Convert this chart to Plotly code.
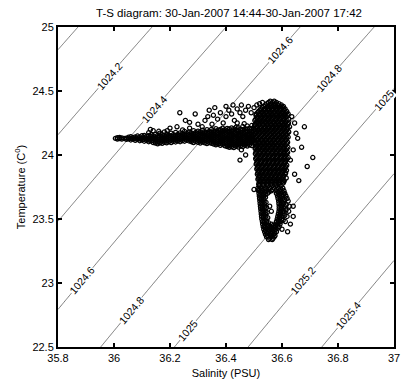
import math
import numpy as np
import plotly.graph_objects as go

# ---------------------------------------------------------------- data
TITLE = "T-S diagram: 30-Jan-2007 14:44-30-Jan-2007 17:42"

# warm, fresher tongue: salinity stations and the temperatures seen at each
BAND_SAL = [
    36.005, 36.012, 36.020, 36.028, 36.036, 36.044, 36.052, 36.060, 36.068, 36.076,
    36.084, 36.092, 36.100, 36.108, 36.116, 36.124, 36.132, 36.140, 36.148, 36.156,
    36.164, 36.172, 36.180, 36.188, 36.196, 36.204, 36.212, 36.220, 36.228, 36.236,
    36.244, 36.252, 36.260, 36.268, 36.276, 36.284, 36.292, 36.300, 36.308, 36.316,
    36.324, 36.332, 36.340, 36.348, 36.356, 36.364, 36.372, 36.380, 36.388, 36.396,
    36.404, 36.412, 36.420, 36.428, 36.436, 36.444, 36.452, 36.460, 36.468, 36.476,
    36.484, 36.492,
]
BAND_TEMP = [
    [24.130], [24.125, 24.135], [24.128, 24.136], [24.124, 24.134], [24.130],
    [24.122, 24.132], [24.126, 24.138], [24.118, 24.130, 24.142], [24.124, 24.136],
    [24.115, 24.128, 24.140], [24.122, 24.134, 24.148], [24.112, 24.126, 24.140],
    [24.118, 24.132, 24.150], [24.108, 24.122, 24.136, 24.152], [24.114, 24.128, 24.144],
    [24.104, 24.118, 24.134, 24.150, 24.175], [24.110, 24.126, 24.142, 24.158],
    [24.098, 24.114, 24.130, 24.148], [24.094, 24.108, 24.124, 24.140, 24.160],
    [24.088, 24.104, 24.120, 24.136, 24.152], [24.096, 24.112, 24.128, 24.146, 24.170],
    [24.092, 24.108, 24.124, 24.140, 24.158], [24.100, 24.116, 24.132, 24.150, 24.180],
    [24.096, 24.112, 24.128, 24.146, 24.164], [24.104, 24.120, 24.136, 24.154],
    [24.098, 24.114, 24.130, 24.148, 24.170], [24.106, 24.122, 24.140, 24.158],
    [24.102, 24.118, 24.134, 24.152, 24.176], [24.110, 24.126, 24.142, 24.160],
    [24.104, 24.120, 24.136, 24.154, 24.172], [24.112, 24.128, 24.146, 24.164],
    [24.108, 24.124, 24.140, 24.158, 24.184], [24.116, 24.132, 24.150, 24.168],
    [24.110, 24.126, 24.142, 24.160, 24.178], [24.104, 24.120, 24.136, 24.154, 24.172],
    [24.098, 24.114, 24.130, 24.148, 24.166, 24.190], [24.106, 24.122, 24.140, 24.158, 24.176],
    [24.100, 24.116, 24.132, 24.150, 24.168, 24.186], [24.094, 24.110, 24.126, 24.144, 24.162, 24.180],
    [24.102, 24.118, 24.136, 24.154, 24.172, 24.194], [24.096, 24.112, 24.128, 24.146, 24.164, 24.182],
    [24.090, 24.106, 24.122, 24.140, 24.158, 24.176, 24.198],
    [24.098, 24.114, 24.130, 24.148, 24.166, 24.184],
    [24.092, 24.108, 24.124, 24.142, 24.160, 24.178, 24.200],
    [24.086, 24.102, 24.118, 24.136, 24.154, 24.172, 24.190],
    [24.080, 24.096, 24.112, 24.130, 24.148, 24.166, 24.186, 24.206],
    [24.088, 24.104, 24.120, 24.138, 24.156, 24.174, 24.194],
    [24.076, 24.092, 24.108, 24.126, 24.144, 24.162, 24.180, 24.200],
    [24.084, 24.100, 24.116, 24.134, 24.152, 24.170, 24.190, 24.210],
    [24.072, 24.090, 24.106, 24.124, 24.142, 24.160, 24.178, 24.198],
    [24.066, 24.080, 24.096, 24.114, 24.132, 24.150, 24.168, 24.188, 24.208],
    [24.060, 24.074, 24.092, 24.108, 24.126, 24.144, 24.162, 24.182, 24.204],
    [24.064, 24.082, 24.098, 24.116, 24.134, 24.152, 24.170, 24.190, 24.212],
    [24.058, 24.078, 24.094, 24.112, 24.130, 24.148, 24.166, 24.186, 24.206],
    [24.068, 24.086, 24.102, 24.120, 24.138, 24.156, 24.174, 24.196, 24.218],
    [24.062, 24.082, 24.098, 24.116, 24.134, 24.152, 24.170, 24.190, 24.214],
    [24.072, 24.090, 24.106, 24.124, 24.142, 24.160, 24.180, 24.202],
    [24.066, 24.086, 24.102, 24.120, 24.138, 24.156, 24.176, 24.198, 24.222],
    [24.076, 24.094, 24.110, 24.128, 24.146, 24.164, 24.184, 24.206],
    [24.070, 24.090, 24.106, 24.124, 24.142, 24.160, 24.180, 24.202, 24.226],
    [24.080, 24.098, 24.114, 24.132, 24.150, 24.168, 24.188, 24.210],
    [24.074, 24.094, 24.110, 24.128, 24.146, 24.164, 24.184, 24.206, 24.230],
]

# saline core: temperature rows and the salinities seen in each
COLUMN_TEMP = [
    24.42, 24.40, 24.38, 24.36, 24.34, 24.32, 24.30, 24.28, 24.26, 24.24,
    24.22, 24.20, 24.18, 24.16, 24.14, 24.12, 24.10, 24.08, 24.06, 24.04,
    24.02, 24.00, 23.98, 23.96, 23.94, 23.92, 23.90, 23.88, 23.86, 23.84,
    23.82, 23.80, 23.78, 23.76,
]
COLUMN_SAL = [
    [36.558, 36.572],
    [36.546, 36.560, 36.575, 36.589],
    [36.535, 36.549, 36.564, 36.578, 36.593, 36.605],
    [36.524, 36.539, 36.553, 36.568, 36.582, 36.597, 36.611],
    [36.516, 36.530, 36.545, 36.559, 36.574, 36.588, 36.603, 36.617],
    [36.508, 36.523, 36.537, 36.552, 36.566, 36.581, 36.595, 36.610, 36.622],
    [36.514, 36.528, 36.543, 36.557, 36.572, 36.586, 36.601, 36.615],
    [36.506, 36.521, 36.535, 36.550, 36.564, 36.579, 36.593, 36.608, 36.624],
    [36.512, 36.526, 36.541, 36.555, 36.570, 36.584, 36.599, 36.613],
    [36.504, 36.519, 36.533, 36.548, 36.562, 36.577, 36.591, 36.606, 36.620],
    [36.510, 36.524, 36.539, 36.553, 36.568, 36.582, 36.597, 36.611, 36.627],
    [36.502, 36.517, 36.531, 36.546, 36.560, 36.575, 36.589, 36.604, 36.618],
    [36.508, 36.522, 36.537, 36.551, 36.566, 36.580, 36.595, 36.609, 36.624],
    [36.500, 36.515, 36.529, 36.544, 36.558, 36.573, 36.587, 36.602, 36.616],
    [36.506, 36.520, 36.535, 36.549, 36.564, 36.578, 36.593, 36.607, 36.622],
    [36.498, 36.513, 36.527, 36.542, 36.556, 36.571, 36.585, 36.600, 36.614],
    [36.504, 36.518, 36.533, 36.547, 36.562, 36.576, 36.591, 36.605, 36.620],
    [36.510, 36.525, 36.539, 36.554, 36.568, 36.583, 36.597, 36.612],
    [36.505, 36.519, 36.534, 36.548, 36.563, 36.577, 36.592, 36.606, 36.621],
    [36.511, 36.526, 36.540, 36.555, 36.569, 36.584, 36.598, 36.613],
    [36.507, 36.521, 36.536, 36.550, 36.565, 36.579, 36.594, 36.608, 36.620],
    [36.513, 36.527, 36.542, 36.556, 36.571, 36.585, 36.600, 36.614],
    [36.508, 36.522, 36.537, 36.551, 36.566, 36.580, 36.595, 36.609, 36.622],
    [36.514, 36.528, 36.543, 36.557, 36.572, 36.586, 36.601, 36.615],
    [36.510, 36.524, 36.539, 36.553, 36.568, 36.582, 36.597, 36.611],
    [36.516, 36.530, 36.545, 36.559, 36.574, 36.588, 36.603, 36.617],
    [36.512, 36.526, 36.541, 36.555, 36.570, 36.584, 36.599, 36.612],
    [36.518, 36.532, 36.547, 36.561, 36.576, 36.590, 36.605, 36.616],
    [36.514, 36.528, 36.543, 36.557, 36.572, 36.586, 36.601, 36.613],
    [36.520, 36.534, 36.549, 36.563, 36.578, 36.592, 36.606],
    [36.516, 36.530, 36.545, 36.559, 36.574, 36.588, 36.603, 36.615],
    [36.522, 36.536, 36.551, 36.565, 36.580, 36.594, 36.608],
    [36.518, 36.532, 36.547, 36.561, 36.576, 36.590, 36.604],
    [36.520, 36.535, 36.550, 36.566, 36.581, 36.597],
]

# second pass through the core (samples between the rows above)
COLUMN_TEMP_2 = [
    24.41, 24.39, 24.37, 24.35, 24.33, 24.31, 24.29, 24.27, 24.25, 24.23,
    24.21, 24.19, 24.17, 24.15, 24.13, 24.11, 24.09, 24.07, 24.05, 24.03,
    24.01, 23.99, 23.97, 23.95, 23.93, 23.91, 23.89, 23.87, 23.85, 23.83,
    23.81, 23.79, 23.77,
]
COLUMN_SAL_2 = [
    [36.552, 36.566, 36.580],
    [36.541, 36.556, 36.571, 36.585, 36.598],
    [36.530, 36.545, 36.560, 36.575, 36.589, 36.603],
    [36.521, 36.536, 36.551, 36.565, 36.580, 36.594, 36.608],
    [36.513, 36.528, 36.542, 36.557, 36.571, 36.586, 36.600, 36.614],
    [36.507, 36.521, 36.536, 36.550, 36.565, 36.579, 36.594, 36.608, 36.619],
    [36.510, 36.525, 36.539, 36.554, 36.568, 36.583, 36.597, 36.612],
    [36.503, 36.518, 36.532, 36.547, 36.561, 36.576, 36.590, 36.605, 36.618],
    [36.508, 36.522, 36.537, 36.551, 36.566, 36.580, 36.595, 36.609, 36.623],
    [36.502, 36.516, 36.531, 36.545, 36.560, 36.574, 36.589, 36.603, 36.617],
    [36.506, 36.520, 36.535, 36.549, 36.564, 36.578, 36.593, 36.607, 36.621],
    [36.500, 36.514, 36.529, 36.543, 36.558, 36.572, 36.587, 36.601, 36.615],
    [36.504, 36.518, 36.533, 36.547, 36.562, 36.576, 36.591, 36.605, 36.619],
    [36.498, 36.512, 36.527, 36.541, 36.556, 36.570, 36.585, 36.599, 36.613],
    [36.502, 36.516, 36.531, 36.545, 36.560, 36.574, 36.589, 36.603, 36.617],
    [36.497, 36.511, 36.526, 36.540, 36.555, 36.569, 36.584, 36.598, 36.612],
    [36.503, 36.517, 36.532, 36.546, 36.561, 36.575, 36.590, 36.604, 36.617],
    [36.508, 36.522, 36.537, 36.551, 36.566, 36.580, 36.595, 36.609],
    [36.504, 36.518, 36.533, 36.547, 36.562, 36.576, 36.591, 36.605, 36.617],
    [36.509, 36.523, 36.538, 36.552, 36.567, 36.581, 36.596, 36.610],
    [36.505, 36.519, 36.534, 36.548, 36.563, 36.577, 36.592, 36.606, 36.617],
    [36.510, 36.524, 36.539, 36.553, 36.568, 36.582, 36.597, 36.611],
    [36.506, 36.520, 36.535, 36.549, 36.564, 36.578, 36.593, 36.607, 36.618],
    [36.512, 36.526, 36.541, 36.555, 36.570, 36.584, 36.599, 36.612],
    [36.508, 36.522, 36.537, 36.551, 36.566, 36.580, 36.595, 36.608],
    [36.514, 36.528, 36.543, 36.557, 36.572, 36.586, 36.601, 36.613],
    [36.510, 36.524, 36.539, 36.553, 36.568, 36.582, 36.597, 36.610],
    [36.516, 36.530, 36.545, 36.559, 36.574, 36.588, 36.603],
    [36.512, 36.526, 36.541, 36.555, 36.570, 36.584, 36.599, 36.611],
    [36.518, 36.532, 36.547, 36.561, 36.576, 36.590, 36.604],
    [36.514, 36.528, 36.543, 36.557, 36.572, 36.586, 36.601],
    [36.520, 36.534, 36.549, 36.563, 36.578, 36.592, 36.606],
    [36.517, 36.531, 36.546, 36.560, 36.575, 36.590],
]

# cooler loop at the bottom of the core
LOOP_TEMP = [
    23.74, 23.72, 23.70, 23.68, 23.66, 23.64, 23.62, 23.60, 23.58, 23.56,
    23.54, 23.52, 23.50, 23.48, 23.46, 23.44, 23.42, 23.40, 23.38, 23.36, 23.34,
]
LOOP_SAL = [
    [36.514, 36.528, 36.543, 36.558, 36.573, 36.588, 36.603],
    [36.516, 36.530, 36.545, 36.562, 36.578, 36.593, 36.607],
    [36.518, 36.532, 36.548, 36.580, 36.596, 36.610],
    [36.519, 36.534, 36.584, 36.599, 36.614],
    [36.520, 36.535, 36.586, 36.602, 36.618],
    [36.521, 36.536, 36.588, 36.604, 36.622],
    [36.522, 36.537, 36.589, 36.606],
    [36.523, 36.538, 36.556, 36.590, 36.608, 36.626],
    [36.524, 36.539, 36.590, 36.607],
    [36.525, 36.540, 36.562, 36.589, 36.605, 36.624],
    [36.526, 36.541, 36.587, 36.603],
    [36.527, 36.542, 36.585, 36.600, 36.618],
    [36.528, 36.543, 36.583, 36.598],
    [36.530, 36.545, 36.580, 36.595, 36.612],
    [36.531, 36.547, 36.563, 36.578, 36.593],
    [36.533, 36.548, 36.562, 36.576, 36.590],
    [36.535, 36.550, 36.564, 36.578, 36.600],
    [36.538, 36.552, 36.566, 36.580],
    [36.541, 36.555, 36.569],
    [36.545, 36.559, 36.572],
    [36.552, 36.565],
]
LOOP_TEMP_2 = [
    23.73, 23.71, 23.69, 23.67, 23.65, 23.63, 23.61, 23.59, 23.57, 23.55,
    23.53, 23.51, 23.49, 23.47, 23.45, 23.43, 23.41, 23.39, 23.37, 23.35,
]
LOOP_SAL_2 = [
    [36.521, 36.536, 36.551, 36.566, 36.581, 36.596],
    [36.523, 36.538, 36.553, 36.586, 36.601],
    [36.525, 36.540, 36.590, 36.606],
    [36.526, 36.541, 36.593],
    [36.527, 36.595, 36.610],
    [36.528, 36.543, 36.597],
    [36.529, 36.598, 36.615],
    [36.530, 36.545, 36.598],
    [36.531, 36.597, 36.614],
    [36.532, 36.547, 36.595],
    [36.533, 36.593, 36.610],
    [36.534, 36.549, 36.591],
    [36.536, 36.588, 36.604],
    [36.537, 36.552, 36.586],
    [36.538, 36.553, 36.569, 36.584],
    [36.540, 36.556, 36.571, 36.586],
    [36.542, 36.557, 36.572],
    [36.545, 36.560, 36.574],
    [36.548, 36.562, 36.575],
    [36.556, 36.568],
]

# sparse samples above the tongue
UPPER_SAL = [
    36.235, 36.290, 36.255, 36.270, 36.200, 36.225, 36.340, 36.355, 36.370, 36.300,
    36.315, 36.325, 36.380, 36.400, 36.410, 36.420, 36.430, 36.440, 36.450, 36.460,
    36.470, 36.480, 36.490, 36.500, 36.510, 36.520, 36.530, 36.440, 36.465, 36.390,
    36.350, 36.270, 36.245, 36.190, 36.160, 36.140, 36.335, 36.360, 36.400, 36.425,
    36.455, 36.130,
]
UPPER_TEMP = [
    24.330, 24.320, 24.270, 24.255, 24.210, 24.220, 24.350, 24.310, 24.280, 24.240,
    24.220, 24.270, 24.330, 24.300, 24.350, 24.320, 24.270, 24.360, 24.330, 24.300,
    24.350, 24.380, 24.330, 24.370, 24.390, 24.400, 24.410, 24.250, 24.245, 24.250,
    24.240, 24.210, 24.195, 24.190, 24.185, 24.190, 24.300, 24.370, 24.380, 24.390,
    24.390, 24.200,
]

# isolated samples around the core
STRAY_SAL = [
    36.680, 36.650, 36.656, 36.670, 36.640, 36.710, 36.690, 36.630, 36.645, 36.635,
    36.660, 36.640, 36.450, 36.470, 36.455, 36.500, 36.516, 36.640, 36.630, 36.620,
    36.645,
]
STRAY_TEMP = [
    24.220, 24.170, 24.130, 24.060, 24.040, 23.980, 23.910, 23.960, 24.250, 24.300,
    23.800, 23.600, 23.960, 24.000, 24.040, 23.730, 23.730, 23.520, 23.460, 23.400,
    23.850,
]

# density isopleths (kg m^-3) and where each one is labelled
DENSITY_LEVELS = [1024.0, 1024.2, 1024.4, 1024.6, 1024.8, 1025.0, 1025.2, 1025.4, 1025.6]
LABEL_LEVELS = [1024.2, 1024.4, 1024.6, 1024.8, 1025.0, 1024.6, 1024.8, 1025.0, 1025.2, 1025.4]
LABEL_TEMPS = [24.62, 24.36, 24.82, 24.60, 24.43, 23.02, 22.79, 22.63, 23.02, 22.75]

SAL_RANGE = [35.8, 37.0]
TEMP_RANGE = [22.5, 25.0]
SAL_TICKS = [35.8, 36.0, 36.2, 36.4, 36.6, 36.8, 37.0]
SAL_TICKTEXT = ["35.8", "36", "36.2", "36.4", "36.6", "36.8", "37"]
TEMP_TICKS = [22.5, 23.0, 23.5, 24.0, 24.5, 25.0]
TEMP_TICKTEXT = ["22.5", "23", "23.5", "24", "24.5", "25"]


# ------------------------------------------------- equation of state
def dens0(s, t):
    """UNESCO 1983 (EOS-80) density of sea water at zero pressure."""
    t68 = t * 1.00024
    smow = (999.842594 + 6.793952e-2 * t68 - 9.095290e-3 * t68**2
            + 1.001685e-4 * t68**3 - 1.120083e-6 * t68**4 + 6.536332e-9 * t68**5)
    b = (8.24493e-1 - 4.0899e-3 * t68 + 7.6438e-5 * t68**2
         - 8.2467e-7 * t68**3 + 5.3875e-9 * t68**4)
    c = -5.72466e-3 + 1.0227e-4 * t68 - 1.6546e-6 * t68**2
    d = 4.8314e-4
    return smow + b * s + c * s**1.5 + d * s**2


def expand_by_key(keys, groups):
    a, b = [], []
    for k, g in zip(keys, groups):
        for v in g:
            a.append(k)
            b.append(v)
    return a, b


band_s, band_t = expand_by_key(BAND_SAL, BAND_TEMP)
col_t, col_s = expand_by_key(COLUMN_TEMP, COLUMN_SAL)
col2_t, col2_s = expand_by_key(COLUMN_TEMP_2, COLUMN_SAL_2)
loop_t, loop_s = expand_by_key(LOOP_TEMP, LOOP_SAL)
loop2_t, loop2_s = expand_by_key(LOOP_TEMP_2, LOOP_SAL_2)

sal = band_s + col_s + col2_s + loop_s + loop2_s + UPPER_SAL + STRAY_SAL
temp = band_t + col_t + col2_t + loop_t + loop2_t + UPPER_TEMP + STRAY_TEMP

# ------------------------------------------------------------ layout
W, H = 403, 383
M_L, M_R, M_T, M_B = 58, 3, 27, 36
plot_w = W - M_L - M_R
plot_h = H - M_T - M_B
px_per_s = plot_w / (SAL_RANGE[1] - SAL_RANGE[0])
px_per_t = plot_h / (TEMP_RANGE[1] - TEMP_RANGE[0])

FONT = "Liberation Sans, Arial, sans-serif"

s_grid = np.linspace(SAL_RANGE[0], SAL_RANGE[1], 241)
t_grid = np.linspace(TEMP_RANGE[0], TEMP_RANGE[1], 251)
SS, TT = np.meshgrid(s_grid, t_grid)
rho = dens0(SS, TT)

fig = go.Figure()

fig.add_trace(go.Contour(
    x=s_grid, y=t_grid, z=rho,
    autocontour=False,
    contours=dict(start=DENSITY_LEVELS[0], end=DENSITY_LEVELS[-1],
                  size=DENSITY_LEVELS[1] - DENSITY_LEVELS[0],
                  coloring="lines", showlabels=False),
    colorscale=[[0, "#222"], [1, "#222"]],
    line=dict(width=0.6),
    showscale=False, hoverinfo="skip",
))

fig.add_trace(go.Scatter(
    x=sal, y=temp, mode="markers",
    marker=dict(symbol="circle-open", size=4.2, color="black",
                line=dict(width=1.25, color="black")),
    hoverinfo="skip", showlegend=False,
))

# inline labels on the isopleths
fine_s = np.linspace(SAL_RANGE[0] - 0.5, SAL_RANGE[1] + 0.5, 4001)
for level, t in zip(LABEL_LEVELS, LABEL_TEMPS):
    s = float(np.interp(level, dens0(fine_s, t), fine_s))
    ds, dt = 1e-3, 1e-3
    r_s = (dens0(s + ds, t) - dens0(s - ds, t)) / (2 * ds)
    r_t = (dens0(s, t + dt) - dens0(s, t - dt)) / (2 * dt)
    slope_px = (-r_s / r_t) * px_per_t / px_per_s
    angle = -math.degrees(math.atan(slope_px))
    text = f"{level:.1f}".rstrip("0").rstrip(".")
    fig.add_annotation(
        x=s, y=t, text=text, showarrow=False, textangle=angle,
        bgcolor="white", borderpad=0,
        font=dict(family=FONT, size=10.5, color="black"),
    )

axis_common = dict(
    showgrid=False, zeroline=False,
    showline=True, linewidth=2, linecolor="black", mirror="ticks",
    ticks="inside", ticklen=4, tickwidth=2, tickcolor="black",
    ticklabeloverflow="allow",
    tickfont=dict(family=FONT, size=11, color="black"),
)

fig.update_layout(
    width=W, height=H,
    margin=dict(l=M_L, r=M_R, t=M_T, b=M_B),
    paper_bgcolor="white", plot_bgcolor="white",
    showlegend=False,
    title=dict(text=TITLE, x=(M_L + plot_w / 2) / W, xanchor="center",
               y=1 - 13 / H, yanchor="middle",
               font=dict(family=FONT, size=11.5, color="black")),
    xaxis=dict(range=SAL_RANGE, tickvals=SAL_TICKS, ticktext=SAL_TICKTEXT,
               title=dict(text="Salinity (PSU)", standoff=6,
                          font=dict(family=FONT, size=11, color="black")),
               **axis_common),
    yaxis=dict(range=TEMP_RANGE, tickvals=TEMP_TICKS, ticktext=TEMP_TICKTEXT,
               title=dict(text="Temperature (C<sup>0</sup>)", standoff=5,
                          font=dict(family=FONT, size=11, color="black")),
               **axis_common),
)

fig.write_html("out.html")
